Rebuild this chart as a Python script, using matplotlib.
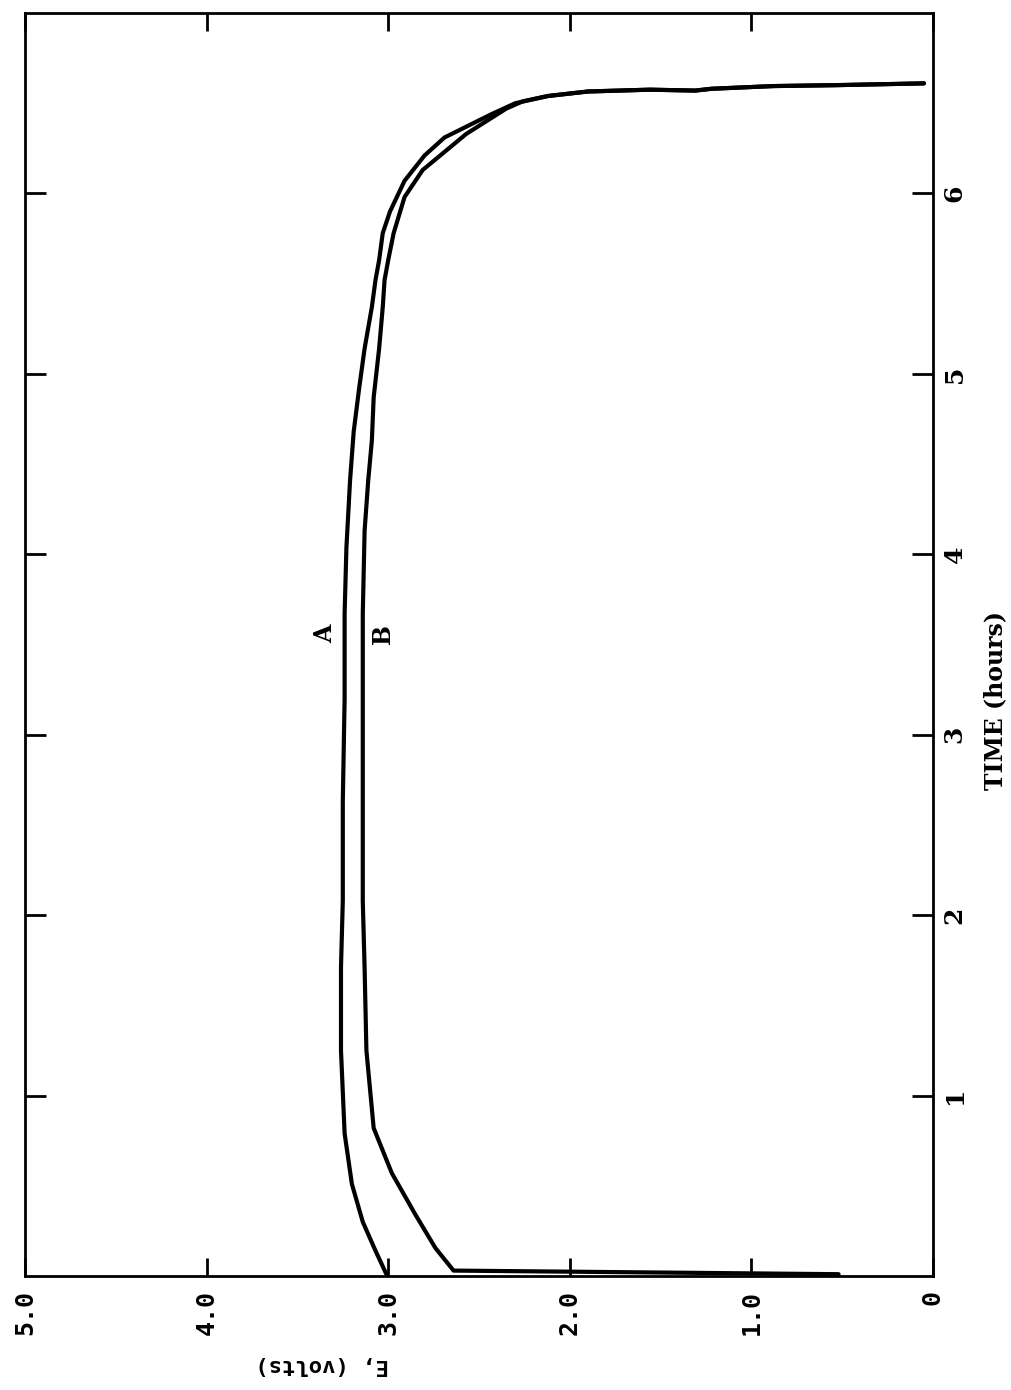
import matplotlib
matplotlib.use("Agg")
import matplotlib.pyplot as plt

# ---- data ----
volt_ticks = [5.0, 4.0, 3.0, 2.0, 1.0, 0.0]
volt_labels = ["5.0", "4.0", "3.0", "2.0", "1.0", "0"]
time_ticks = [1, 2, 3, 4, 5, 6]
time_labels = ["1", "2", "3", "4", "5", "6"]

A_time = [0.01, 0.14, 0.30, 0.51, 0.79, 1.25, 1.71, 2.08, 2.63, 3.20, 3.67,
          4.04, 4.41, 4.68, 4.92, 5.14, 5.37, 5.52, 5.63, 5.78, 5.90, 6.07,
          6.21, 6.31, 6.37, 6.44, 6.50, 6.54, 6.565, 6.575, 6.57, 6.58, 6.595,
          6.60, 6.61]
A_volts = [3.01, 3.07, 3.14, 3.20, 3.24, 3.26, 3.26, 3.25, 3.25, 3.24, 3.24,
           3.23, 3.21, 3.19, 3.16, 3.13, 3.09, 3.07, 3.05, 3.03, 2.99, 2.91,
           2.80, 2.69, 2.57, 2.43, 2.30, 2.12, 1.90, 1.56, 1.31, 1.22, 0.88,
           0.54, 0.05]

B_time = [0.01, 0.03, 0.155, 0.34, 0.57, 0.82, 1.25, 1.71, 2.08, 2.63, 3.20,
          3.67, 4.13, 4.41, 4.63, 4.87, 5.14, 5.37, 5.52, 5.63, 5.78, 5.98,
          6.13, 6.33, 6.47, 6.51, 6.54, 6.565, 6.575, 6.57, 6.58, 6.595, 6.60,
          6.61]
B_volts = [0.52, 2.64, 2.74, 2.85, 2.98, 3.08, 3.12, 3.13, 3.14, 3.14, 3.14,
           3.14, 3.13, 3.11, 3.09, 3.08, 3.05, 3.03, 3.02, 3.00, 2.97, 2.91,
           2.81, 2.57, 2.35, 2.26, 2.12, 1.90, 1.56, 1.31, 1.22, 0.88, 0.54,
           0.05]

curve_labels = ["A", "B"]
label_pos_volts = [3.35, 3.03]
label_pos_time = [3.56, 3.56]

# ---- figure ----
fig = plt.figure(figsize=(10.12, 13.90), dpi=100)
ax = fig.add_axes([25 / 1012, (1390 - 1276) / 1390, (933 - 25) / 1012, (1276 - 13) / 1390])

ax.plot(A_volts, A_time, color="black", lw=3.0, solid_joinstyle="round", solid_capstyle="round")
ax.plot(B_volts, B_time, color="black", lw=3.0, solid_joinstyle="round", solid_capstyle="round")

ax.set_xlim(5, 0)
ax.set_ylim(0, 7)

for s in ax.spines.values():
    s.set_linewidth(2.0)

mono = ["DejaVu Sans Mono", "Liberation Mono"]
serif = ["DejaVu Serif", "Liberation Serif"]

ax.set_xticks(volt_ticks)
ax.set_xticklabels(volt_labels, rotation=90, family=mono, fontweight="bold", fontsize=18)
ax.tick_params(axis="x", direction="in", top=True, bottom=True, length=13, width=2.0, pad=10)

ax.set_yticks(time_ticks)
ax.set_yticklabels(time_labels, rotation=90, va="center", family=serif, fontweight="bold", fontsize=18)
ax.tick_params(axis="y", direction="in", left=True, right=True, labelleft=False,
               labelright=True, length=15, width=2.0, pad=7)

for lab, v, t in zip(curve_labels, label_pos_volts, label_pos_time):
    ax.text(v, t, lab, rotation=90, ha="center", va="center", family=serif,
            fontweight="bold", fontsize=17)

fig.text(995 / 1012, 1 - 700 / 1390, "TIME (hours)", rotation=90, ha="center", va="center",
         family=serif, fontweight="bold", fontsize=17)
fig.text(322 / 1012, 1 - 1365 / 1390, "E, (volts)", rotation=180, ha="center", va="center",
         family=mono, fontweight="bold", fontsize=16)

fig.savefig("out.png", dpi=100, facecolor="white")
